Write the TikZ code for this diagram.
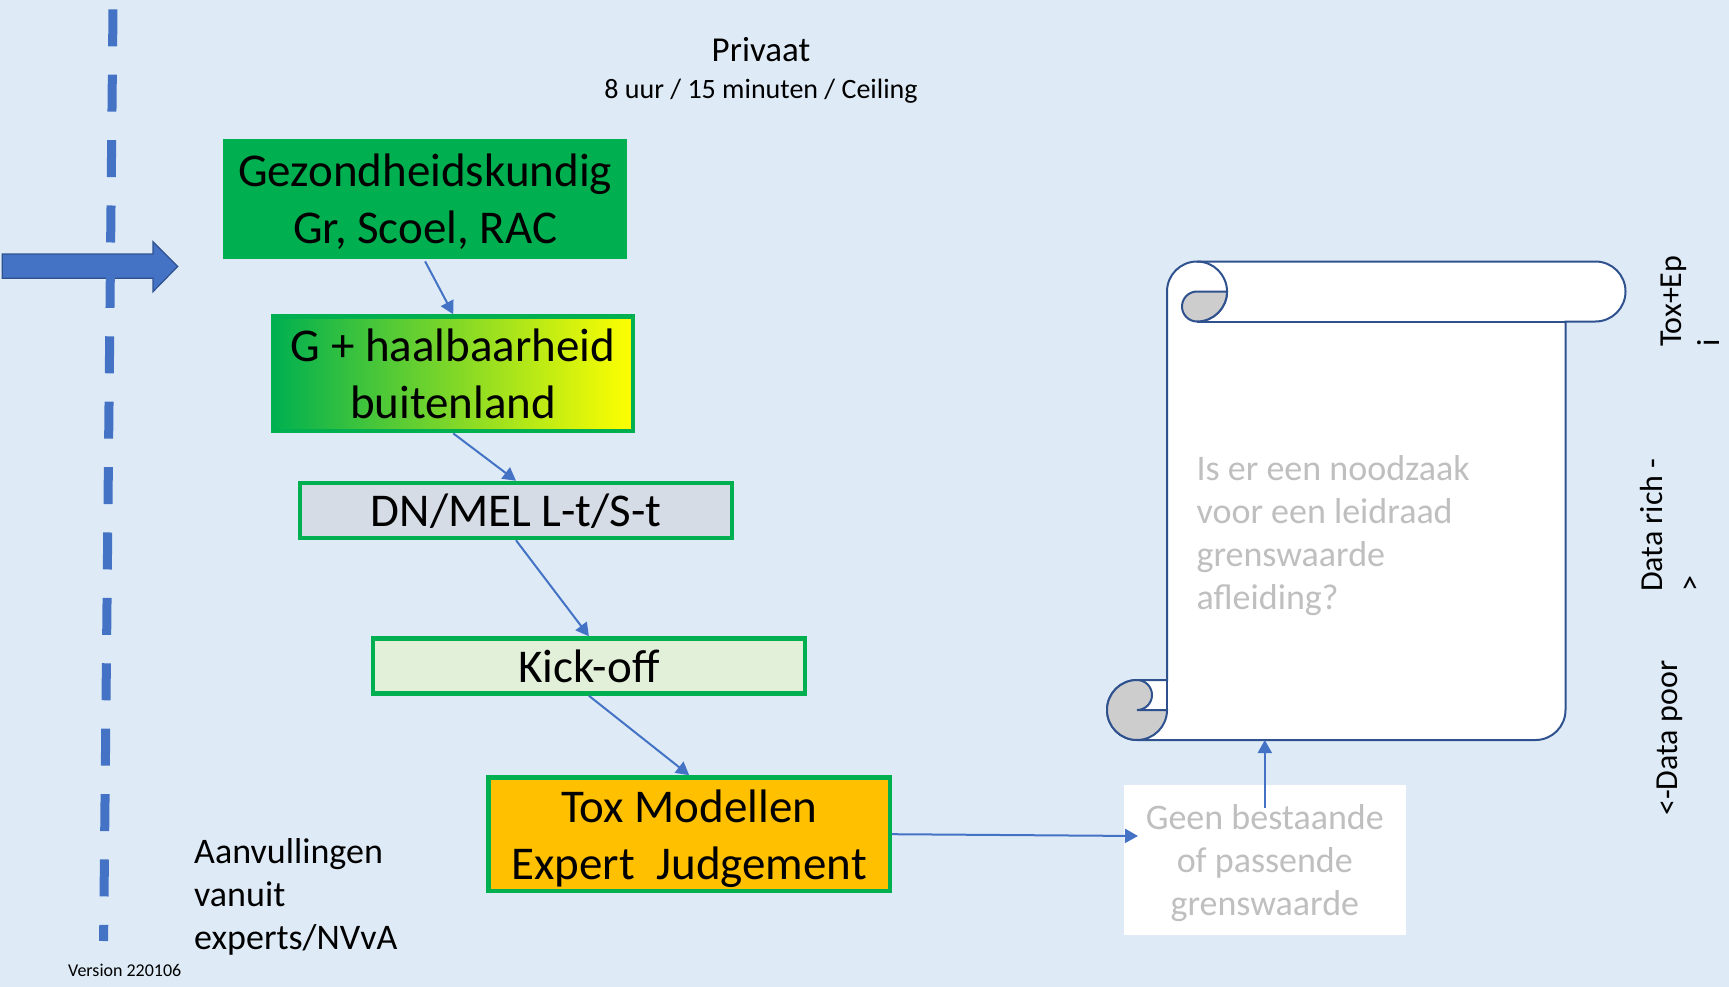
\documentclass[tikz,border=0pt]{standalone}
\usepackage{fontspec}
\setmainfont{Carlito}
\usetikzlibrary{arrows.meta,positioning}
\definecolor{bgblue}{HTML}{DEEBF7}
\definecolor{lineblue}{HTML}{4472C4}
\definecolor{darkblue}{HTML}{2F528F}
\definecolor{boxgreen}{HTML}{00B050}
\definecolor{dnfill}{HTML}{D6DCE5}
\definecolor{kickfill}{HTML}{E2F0D9}
\definecolor{toxfill}{HTML}{FFC000}
\definecolor{fadegray}{HTML}{BFBFBF}
\definecolor{curlgray}{HTML}{CDCDCD}

\begin{document}
\begin{tikzpicture}[x=1pt,y=-1pt,
		stepbox/.style={draw=boxgreen,line width=4.5pt,inner sep=2pt,align=center,text depth=0pt,
			font=\fontsize{47}{57}\selectfont},
		flow/.style={draw=lineblue,line width=2pt,-{Triangle[length=13pt,width=14pt]}},
		scrollline/.style={draw=darkblue,line width=2pt},
		note/.style={inner sep=0pt,align=left,font=\fontsize{36}{43}\selectfont},
		side/.style={inner sep=0pt,rotate=90,align=left,font=\fontsize{32}{38}\selectfont}]
				\useasboundingbox (0,0) rectangle (1729,987);
				\fill[bgblue] (0,0) rectangle (1729,987);
				% incoming block arrow and divider
				\filldraw[fill=lineblue,draw=darkblue,line width=1.2pt] (2.2,254) -- (153,254) -- (153,241.7) -- (177.7,266.5) -- (153,291.7) -- (153,278.3) -- (2.2,278.3) -- cycle;
				\draw[lineblue,line width=9pt,dash pattern=on 37pt off 28.4pt] (113,9.3) -- (103.6,941);
				% titles
				\node[inner sep=0pt,anchor=base,font=\fontsize{35}{42}\selectfont] (privaat) at (761,61.7) {Privaat};
				\node[inner sep=0pt,anchor=base,font=\fontsize{28}{33}\selectfont] (tijden) at (761,99) {8 uur / 15 minuten / Ceiling};
				% chain of steps
				\node[stepbox,draw=none,fill=boxgreen,minimum width=404.7pt,minimum height=120.2pt] (gezond) at (425.1,199) {Gezondheidskundig\\Gr, Scoel, RAC};
				\node[stepbox,left color=boxgreen,right color=yellow,minimum width=359.4pt,minimum height=114.6pt] (haal) at (453.2,373.8) {G + haalbaarheid\\buitenland};
				\node[stepbox,fill=dnfill,minimum width=432.2pt,minimum height=55pt] (dnmel) at (516,510.5) {DN/MEL L-t/S-t};
				\node[stepbox,fill=kickfill,minimum width=432.2pt,minimum height=55pt] (kick) at (588.9,666) {Kick-off};
				\node[stepbox,fill=toxfill,minimum width=401.3pt,minimum height=113.5pt] (tox) at (689.2,834.2) {Tox Modellen\\Expert~~Judgement};
				\node[note,anchor=north west] (aanv) at (194,838) {Aanvullingen\\vanuit\\experts/NVvA};
				\node[inner sep=0pt,anchor=base west,font=\fontsize{18}{21}\selectfont] (versie) at (68,976) {Version 220106};
				% scroll
				\filldraw[scrollline,fill=white] (1197,261.5) -- (1595.5,261.5) arc[start angle=90,end angle=-90,radius=30pt] -- (1565.5,321.5) -- (1565.5,710) arc[start angle=0,end angle=-90,radius=30pt] -- (1137,740) arc[start angle=-90,end angle=-270,radius=30pt] -- (1167,680) -- (1167,291.5) arc[start angle=180,end angle=90,radius=30pt] -- cycle;
				\filldraw[scrollline,fill=curlgray] (1137,680) arc[start angle=90,end angle=-90,radius=15pt] -- (1167,710) arc[start angle=0,end angle=-270,radius=30pt] -- cycle;
				\draw[scrollline] (1167,680) -- (1167,710);
				\draw[scrollline] (1197,321.5) -- (1565.5,321.5);
				\draw[scrollline] (1197,261.5) arc[start angle=90,end angle=-90,radius=30pt];
				\filldraw[scrollline,fill=curlgray] (1197,291.5) -- (1227,291.5) arc[start angle=0,end angle=-90,radius=30pt] arc[start angle=-90,end angle=-270,radius=15pt] -- cycle;
				\node[note,text=fadegray,anchor=north west] (vraag) at (1196.4,455) {Is er een noodzaak\\voor een leidraad\\grenswaarde\\afleiding?};
				\coordinate (scrollfoot) at (1264.8,740);
				\node[fill=white,inner sep=2pt,align=center,text depth=0pt,text=fadegray,font=\fontsize{36}{43}\selectfont,minimum width=282.3pt,minimum height=150pt] (geen) at (1264.8,860.1) {Geen bestaande\\of passende\\grenswaarde};
				\coordinate (geenin) at (1138,836);
				% side labels
				\node[side,anchor=base west] (poor) at (1677,816) {<-Data poor};
				\node[side,anchor=north west] (rich) at (1640,592) {Data rich -\\>};
				\node[side,anchor=north west] (toxepi) at (1661,347) {Tox+Ep\\i};
				% connectors
				\draw[flow] (gezond.south) -- (haal.north);
				\draw[flow] (haal.south) -- (dnmel.north);
				\draw[flow] (dnmel.south) -- (kick.north);
				\draw[flow] (kick.south) -- (tox.north);
				\draw[flow] (tox.east) -- (geenin);
				\draw[flow] ([yshift=-23pt]geen.north) -- (scrollfoot);
			\end{tikzpicture}
\end{document}
